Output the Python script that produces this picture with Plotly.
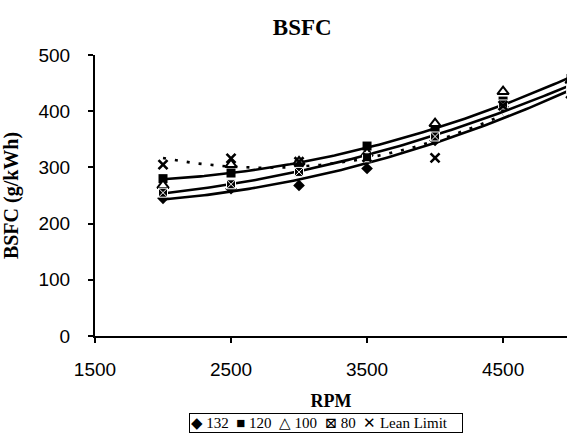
import numpy as np
import plotly.graph_objects as go

# Engine speed (RPM) and brake specific fuel consumption (g/kWh)
rpm = [2000, 2500, 3000, 3500, 4000, 4500, 5000]
bsfc_132 = [245, 262, 268, 298, 348, 408, 425]
bsfc_120 = [280, 290, 305, 338, 365, 418, 458]
bsfc_100 = [268, 305, 310, 325, 378, 435, 455]
bsfc_80 = [255, 270, 292, 318, 355, 412, 440]
rpm_lean = [2000, 2500, 3000, 3500, 4000, 4500]
bsfc_lean = [305, 316, 310, 318, 317, 410]

x_ticks = [1500, 2500, 3500, 4500]
y_ticks = [0, 100, 200, 300, 400, 500]

# legend key: glyph per series
legend_keys = [("\u25c6", "132"), ("\u25a0", "120"), ("\u25b3", "100"),
               ("\u22a0", "80"), ("\u2715", "Lean Limit")]

SERIF = "Liberation Serif, DejaVu Serif, serif"
SANS = "Liberation Sans, Arial, sans-serif"

fig = go.Figure()


def trend(xs, ys, dash="solid"):
    """Second-order polynomial trendline over the span of the data."""
    coef = np.polyfit(xs, ys, 2)
    xx = np.linspace(min(xs), max(xs), 120)
    fig.add_trace(go.Scatter(
        x=xx, y=np.polyval(coef, xx), mode="lines",
        line=dict(color="black", width=2.6, dash=dash),
        showlegend=False, hoverinfo="skip"))


trend(rpm, bsfc_132)
trend(rpm, bsfc_120)
trend(rpm, bsfc_80)
trend(rpm_lean, bsfc_lean, dash="3px,9px")

series = [
    ("132", rpm, bsfc_132, dict(symbol="diamond", size=9, color="black")),
    ("120", rpm, bsfc_120, dict(symbol="square", size=9, color="black")),
    ("100", rpm, bsfc_100, dict(symbol="triangle-up", size=10, color="white",
                                line=dict(color="black", width=2))),
    ("80", rpm, bsfc_80, dict(symbol="square-x", size=9, color="black",
                              line=dict(color="white", width=1))),
    ("Lean Limit", rpm_lean, bsfc_lean, dict(symbol="x-thin-open", size=9, color="black",
                                            line=dict(color="black", width=2.6))),
]
for name, xs, ys, mk in series:
    fig.add_trace(go.Scatter(x=xs, y=ys, mode="markers", name=name, marker=mk,
                             showlegend=False))

legend_text = "  ".join(f"{g} {n}" for g, n in legend_keys)

fig.update_layout(
    width=567, height=444,
    margin=dict(l=95, r=0, t=55, b=108),
    paper_bgcolor="white", plot_bgcolor="white",
    title=dict(text="<b>BSFC</b>", xref="container", x=0.533, xanchor="center",
               yref="container", y=0.94, yanchor="middle",
               font=dict(family=SERIF, size=23, color="black")),
    showlegend=False,
    annotations=[dict(
        text=legend_text, xref="paper", yref="paper",
        x=(326 - 95) / 472, y=(336 - 423) / 281,
        xanchor="center", yanchor="middle", showarrow=False,
        width=270, align="left",
        font=dict(family=SERIF, size=15, color="black"),
        bordercolor="black", borderwidth=1, borderpad=1, bgcolor="white")],
)

fig.update_xaxes(
    range=[1500, 4970], tickvals=x_ticks, ticks="outside", ticklen=5,
    tickwidth=1.5, tickcolor="black", showline=True, linecolor="black",
    linewidth=1.6, showgrid=False, zeroline=False, ticklabelstandoff=10,
    tickfont=dict(family=SANS, size=19, color="black"),
    title=dict(text="<b>RPM</b>", standoff=16,
               font=dict(family=SERIF, size=18, color="black")))

fig.update_yaxes(
    range=[0, 500], tickvals=y_ticks, ticks="outside", ticklen=5,
    tickwidth=1.5, tickcolor="black", showline=True, linecolor="black",
    linewidth=2, showgrid=False, zeroline=False, ticklabelstandoff=14,
    tickfont=dict(family=SANS, size=19, color="black"),
    title=dict(text="<b>BSFC (g/kWh)</b>", standoff=14,
               font=dict(family=SERIF, size=20, color="black")))

fig.write_html("out.html")
